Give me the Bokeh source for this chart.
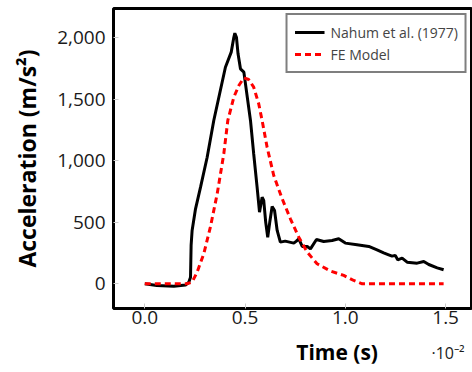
from bokeh.plotting import figure
from bokeh.models import Range1d, NumeralTickFormatter, FixedTicker, Legend, LegendItem, Label
from bokeh.layouts import column
from bokeh.embed import file_html
from bokeh.resources import INLINE

# time in units of 1e-2 s, acceleration in m/s^2
nahum_t = [0.0, 0.06, 0.145, 0.203, 0.22, 0.228, 0.231, 0.236, 0.253, 0.278, 0.311, 0.344,
           0.402, 0.431, 0.444, 0.449, 0.457, 0.465, 0.477, 0.494, 0.527, 0.543, 0.56, 0.572,
           0.585, 0.593, 0.603, 0.613, 0.623, 0.635, 0.647, 0.66, 0.676, 0.70, 0.743, 0.756,
           0.768, 0.785, 0.81, 0.826, 0.856, 0.892, 0.934, 0.967, 1.0, 1.058, 1.117, 1.158,
           1.191, 1.216, 1.233, 1.249, 1.261, 1.283, 1.308, 1.358, 1.391, 1.416, 1.458, 1.49]
nahum_a = [0, -14, -20, -10, 14, 54, 312, 434, 610, 786, 1030, 1329,
           1762, 1885, 2006, 2039, 2006, 1871, 1749, 1722, 1329, 1058, 786, 583,
           705, 678, 500, 379, 500, 629, 596, 434, 339, 347, 331, 347,
           366, 304, 304, 284, 360, 344, 352, 366, 331, 318, 304, 276,
           252, 236, 225, 231, 195, 209, 176, 168, 182, 157, 130, 114]

fe_t = [0.0, 0.21, 0.236, 0.261, 0.294, 0.327, 0.361, 0.394, 0.414, 0.444, 0.469, 0.494,
        0.518, 0.543, 0.568, 0.585, 0.61, 0.643, 0.685, 0.726, 0.768, 0.81, 0.859, 0.926,
        0.992, 1.042, 1.084, 1.49]
fe_a = [0, 0, 14, 95, 244, 461, 732, 1058, 1329, 1519, 1613, 1676,
        1662, 1600, 1465, 1329, 1111, 881, 692, 529, 379, 257, 163, 103,
        68, 27, 0, 0]

x_ticks = [0.0, 0.5, 1.0, 1.5]
y_ticks = [0, 500, 1000, 1500, 2000]
x_label = "Time (s)"
x_scale_label = "·10⁻²"
y_label = "Acceleration (m/s²)"
series_names = ["Nahum et al. (1977)", "FE Model"]

FONT = "Open Sans"

p = figure(width=472, height=336, output_backend="svg", toolbar_location=None,
           x_range=Range1d(-0.156, 1.634), y_range=Range1d(-201, 2240),
           min_border_left=113, min_border_right=0, min_border_top=8, min_border_bottom=28)
p.background_fill_color = "white"
p.border_fill_color = "white"
p.outline_line_color = "black"
p.outline_line_width = 3
p.grid.visible = False

p.xaxis.ticker = FixedTicker(ticks=x_ticks)
p.yaxis.ticker = FixedTicker(ticks=y_ticks)
p.xaxis.formatter = NumeralTickFormatter(format="0.0")
p.yaxis.formatter = NumeralTickFormatter(format="0,0")

for ax in (p.xaxis[0], p.yaxis[0]):
    ax.axis_line_color = None
    ax.major_tick_in = 5
    ax.major_tick_out = 0
    ax.major_tick_line_color = "#cccccc"
    ax.minor_tick_line_color = None
    ax.major_label_text_font = FONT
    ax.major_label_text_font_size = "19px"
    ax.major_label_text_color = "#1a1a1a"
    ax.axis_label_text_font = FONT
    ax.axis_label_text_font_size = "23px"
    ax.axis_label_text_font_style = "bold"
    ax.axis_label_text_color = "black"

p.yaxis.axis_label = y_label
p.xaxis.major_label_standoff = 2
p.yaxis.major_label_standoff = 8
p.yaxis.axis_label_standoff = 11

r1 = p.line(nahum_t, nahum_a, line_color="black", line_width=3)
r2 = p.line(fe_t, fe_a, line_color="#ff0000", line_width=3, line_dash="6 4")

legend = Legend(items=[LegendItem(label=series_names[0], renderers=[r1]),
                       LegendItem(label=series_names[1], renderers=[r2])],
                location="top_right")
legend.margin = 5
legend.padding = 7
legend.spacing = 2
legend.glyph_width = 30
legend.label_text_font = FONT
legend.label_text_font_size = "14px"
legend.label_standoff = 6
legend.border_line_color = "black"
legend.border_line_width = 2.5
legend.background_fill_alpha = 1
p.add_layout(legend)

# strip under the plot carrying the x-axis title and the scale factor
b = figure(width=472, height=30, output_backend="svg", toolbar_location=None,
           x_range=Range1d(0, 472), y_range=Range1d(0, 30),
           x_axis_type=None, y_axis_type=None,
           min_border_left=0, min_border_right=0, min_border_top=0, min_border_bottom=0)
b.outline_line_color = None
b.grid.visible = False
b.border_fill_color = "white"
b.add_layout(Label(x=294, y=15, text=x_label, text_font=FONT, text_font_size="21px",
                   text_font_style="bold", text_align="center", text_baseline="middle",
                   text_color="black"))
b.add_layout(Label(x=418, y=14, text=x_scale_label, text_font=FONT, text_font_size="16px",
                   text_align="left", text_baseline="middle", text_color="#1a1a1a"))

layout = column(p, b, spacing=0)
open("out.html", "w").write(file_html(layout, INLINE))
